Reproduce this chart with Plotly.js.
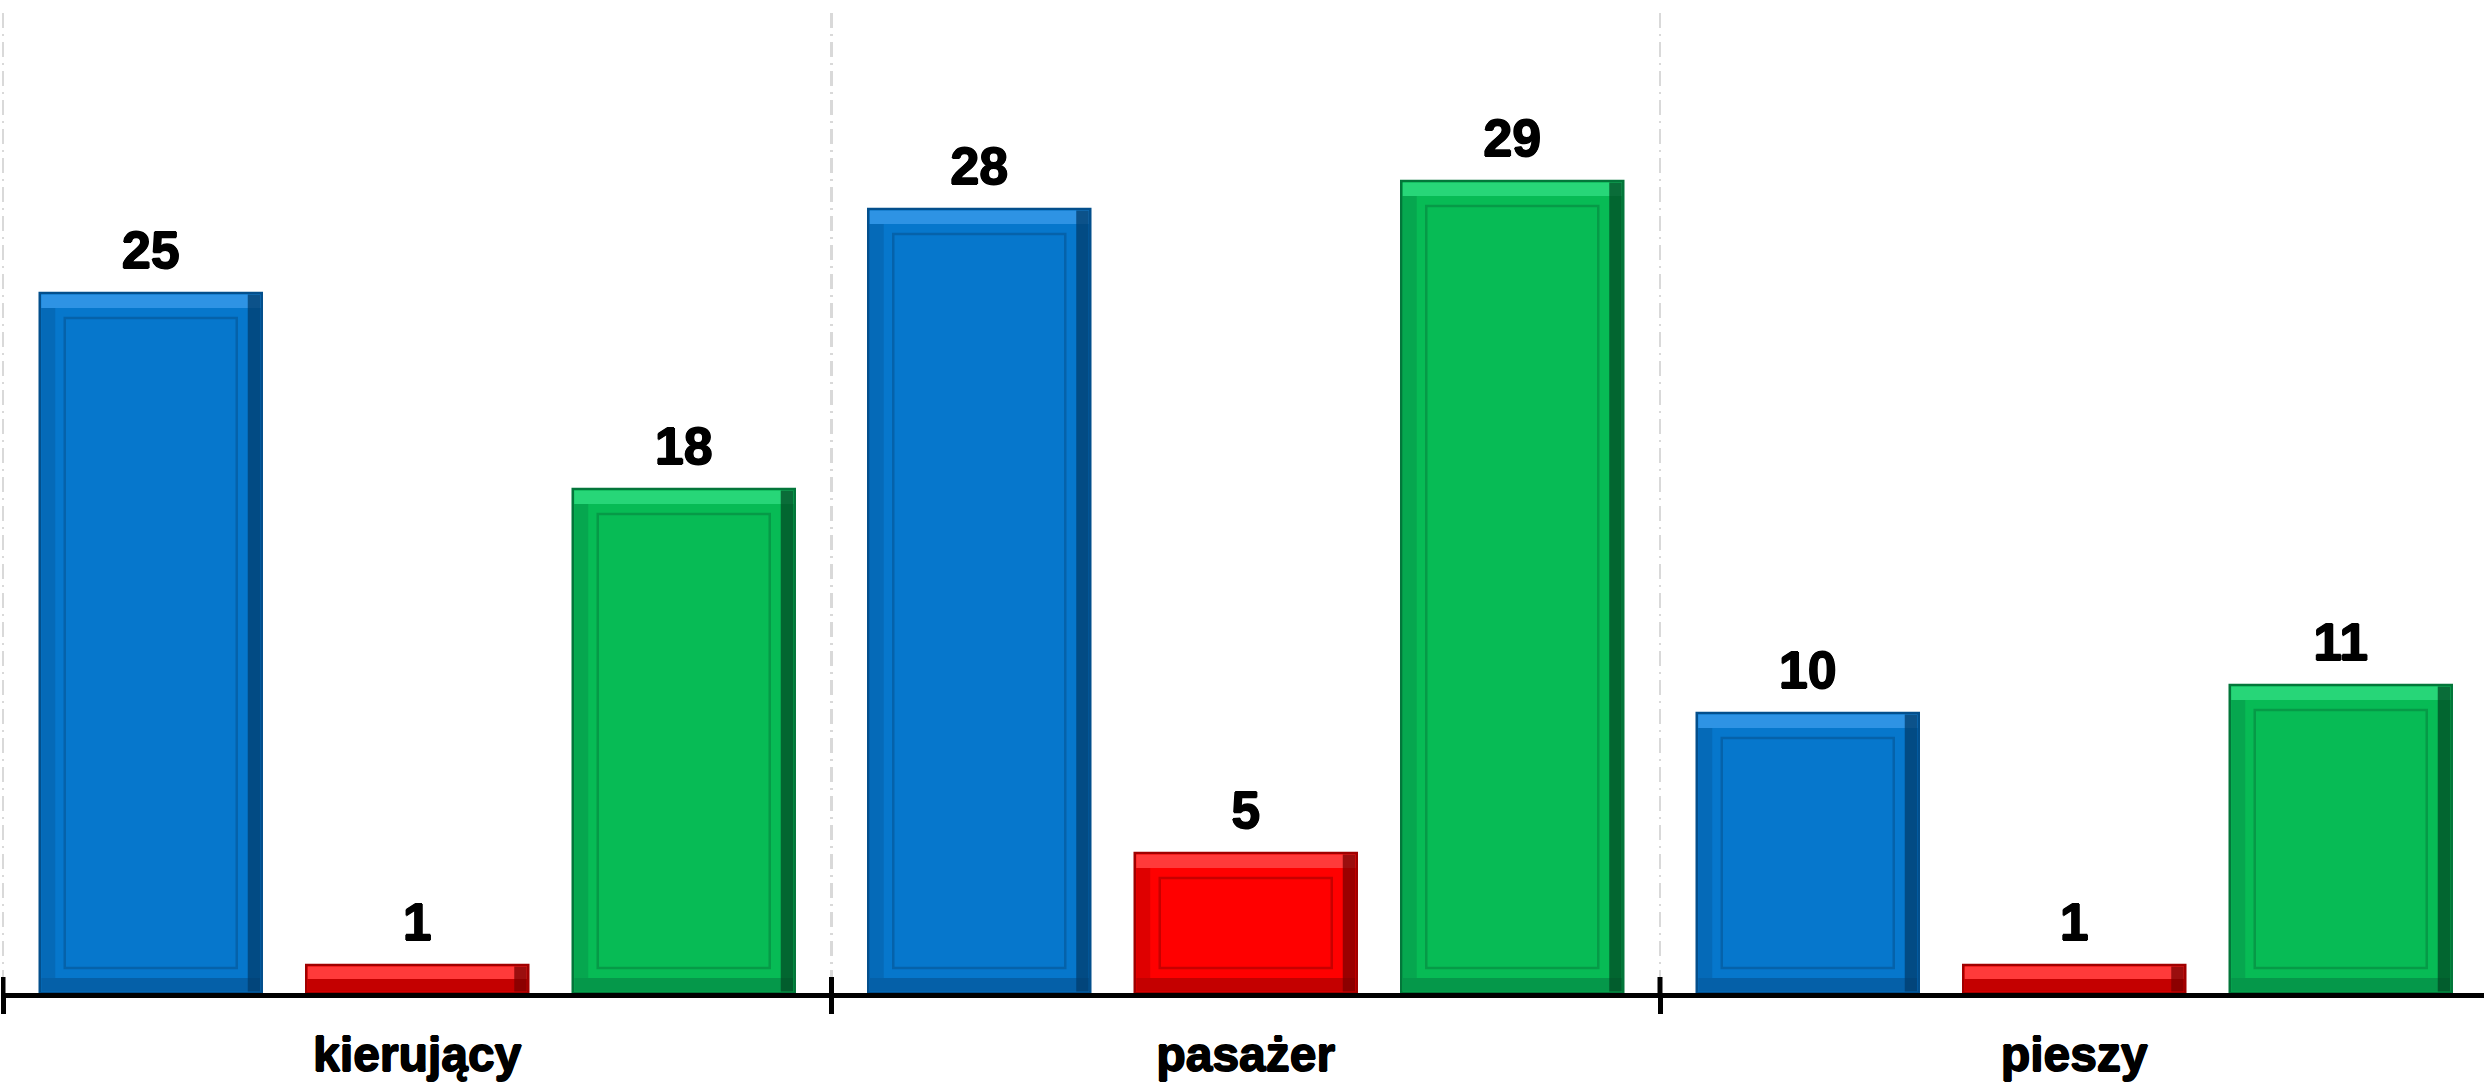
<!DOCTYPE html>
<html>
<head>
<meta charset="utf-8">
<script src="https://cdn.plot.ly/plotly-3.0.1.min.js"></script>
<style>
  html, body { margin: 0; padding: 0; background: #ffffff; overflow: hidden; }
  #chart { width: 2484px; height: 1085px; }
</style>
</head>
<body>
<div id="chart"></div>
<script>
// ---- data ----
const categories = ['kierujący', 'pasażer', 'pieszy'];
const seriesNames = ['seria 1', 'seria 2', 'seria 3'];
const blueValues = [25, 28, 10];
const redValues = [1, 5, 1];
const greenValues = [18, 29, 11];

// ---- styles ----
const fills  = ['#0677CC', '#FF0000', '#07BB55'];
const edges  = ['#034F8C', '#A00000', '#03763A'];
const frames = ['#0562AA', '#C80000', '#069A47'];
const lights = ['#2E93E4', '#FF3A3A', '#27D678'];
const darks  = ['#0560A8', '#C40000', '#05984A'];
const shades = ['#023C6C', '#7A0000', '#024A24'];
const allValues = [blueValues, redValues, greenValues];

const W = 2484, H = 1085;
const margin = { l: 1, r: 0, t: 13, b: 92, pad: 0 };
const yMax = 35;
const plotH = H - margin.t - margin.b;
const pxPerUnit = plotH / yMax;
const labelLift = 11 / pxPerUnit;        // extra gap between bar top and its label
const catPx = 828.5;                      // width of one category in pixels
const xLeft = -0.5 - 2 / catPx;
const xRight = xLeft + (W - margin.l - margin.r) / catPx;
const bargap = 0.035, bargroupgap = 0.167;
const slotW = (1 - bargap) / 3;
const barW = slotW * (1 - bargroupgap);   // bar width in category units
const insetPx = 25;
const innerW = barW - 2 * insetPx / catPx;
const innerBase = insetPx / pxPerUnit;
const px2x = p => p / catPx;
const px2y = p => p / pxPerUnit;

const boldFont = (size, shadow) => ({
  family: 'Liberation Sans, Arial, sans-serif', size: size, color: '#000000', weight: 'bold',
  shadow: shadow
});
const thick = '0.8px 0 0 #000, -0.8px 0 0 #000, 0 0.8px 0 #000, 0 -0.8px 0 #000';

const traces = [];
// main bars
allValues.forEach((vals, i) => {
  traces.push({
    type: 'bar', x: categories, y: vals, name: seriesNames[i],
    offsetgroup: 'g' + i,
    marker: { color: fills[i], line: { color: edges[i], width: 2.5 } },
    hoverinfo: 'skip', showlegend: false
  });
});
// bevel bands (drawn over the main bars)
allValues.forEach((vals, i) => {
  const left = (i - 1) * slotW - barW / 2;
  const band = vals.map(v => Math.min(px2y(15), v / 2));
  const common = { type: 'bar', x: categories, name: seriesNames[i], hoverinfo: 'skip', showlegend: false };
  // bottom band (darker)
  traces.push(Object.assign({}, common, {
    base: vals.map(() => px2y(1.5)), y: band.map(b => b - px2y(1.5)),
    offset: left + px2x(1.5), width: barW - px2x(3),
    marker: { color: darks[i], line: { width: 0 } }
  }));
  // top band (lighter)
  traces.push(Object.assign({}, common, {
    base: vals.map((v, k) => v - band[k]), y: band.map(b => b - px2y(1.5)),
    offset: left + px2x(1.5), width: barW - px2x(3),
    marker: { color: lights[i], line: { width: 0 } }
  }));
  // left band (slightly darker)
  traces.push(Object.assign({}, common, {
    base: band, y: vals.map((v, k) => v - 2 * band[k]),
    offset: left + px2x(1.5), width: px2x(14),
    marker: { color: darks[i], opacity: 0.55, line: { width: 0 } }
  }));
  // right band (dark shadow)
  traces.push(Object.assign({}, common, {
    base: vals.map(() => px2y(1.5)), y: vals.map(v => v - px2y(3)),
    offset: left + barW - px2x(14), width: px2x(12.5),
    marker: { color: shades[i], opacity: 0.75, line: { width: 0 } }
  }));
});
// inner bevel frames (same bars, inset)
allValues.forEach((vals, i) => {
  traces.push({
    type: 'bar', x: categories,
    y: vals.map(v => (v * pxPerUnit > 3 * insetPx ? v - 2 * innerBase : null)),
    base: innerBase, width: innerW, name: seriesNames[i],
    offsetgroup: 'g' + i,
    marker: { color: 'rgba(0,0,0,0)', line: { color: frames[i], width: 2.5 } },
    hoverinfo: 'skip', showlegend: false
  });
});
// label carriers (invisible bars on a lifted overlay axis)
allValues.forEach((vals, i) => {
  traces.push({
    type: 'bar', x: categories, y: vals,
    xaxis: 'x2', yaxis: 'y2', name: seriesNames[i],
    offsetgroup: 'g' + i,
    marker: { color: 'rgba(0,0,0,0)', line: { width: 0 } },
    text: vals.map(String),
    textposition: 'outside',
    cliponaxis: false,
    constraintext: 'none',
    textfont: boldFont(52, thick),
    hoverinfo: 'skip', showlegend: false
  });
});

// upward half of the category-boundary ticks (crossing tick marks)
const boundaryShapes = categories.map((c, i) => ({
  type: 'line',
  xref: 'x', yref: 'y',
  x0: i - 0.5, x1: i - 0.5,
  ysizemode: 'pixel', yanchor: 0,
  y0: 0, y1: 16,
  line: { color: '#000000', width: 5 },
  layer: 'above'
}));

const layout = {
  width: W,
  height: H,
  margin: margin,
  paper_bgcolor: '#ffffff',
  plot_bgcolor: '#ffffff',
  barmode: 'group',
  bargap: bargap,
  bargroupgap: bargroupgap,
  showlegend: false,
  font: { family: 'Liberation Sans, Arial, sans-serif', color: '#000000' },
  shapes: boundaryShapes,
  xaxis: {
    type: 'category',
    categoryorder: 'array',
    categoryarray: categories,
    range: [xLeft, xRight],
    tickson: 'boundaries',
    ticks: 'outside',
    ticklen: 16,
    tickwidth: 5,
    tickcolor: '#000000',
    showline: true,
    linecolor: '#000000',
    linewidth: 4.5,
    showgrid: true,
    gridcolor: '#D9D9D9',
    gridwidth: 2.5,
    griddash: '15px,6px,2px,6px',
    tickfont: boldFont(48, thick),
    ticklabelstandoff: 16,
    zeroline: false,
    fixedrange: true
  },
  yaxis: {
    range: [0, yMax],
    showgrid: false, showline: false, showticklabels: false,
    ticks: '', zeroline: false, fixedrange: true
  },
  xaxis2: {
    type: 'category',
    categoryorder: 'array',
    categoryarray: categories,
    overlaying: 'x',
    anchor: 'y2',
    range: [xLeft, xRight],
    ticks: '', showline: false, showgrid: false, showticklabels: false,
    zeroline: false, fixedrange: true
  },
  yaxis2: {
    overlaying: 'y',
    range: [-labelLift, yMax - labelLift],
    showgrid: false, showline: false, showticklabels: false,
    ticks: '', zeroline: false, fixedrange: true
  }
};

Plotly.newPlot('chart', traces, layout, { displayModeBar: false, staticPlot: true });
</script>
</body>
</html>
